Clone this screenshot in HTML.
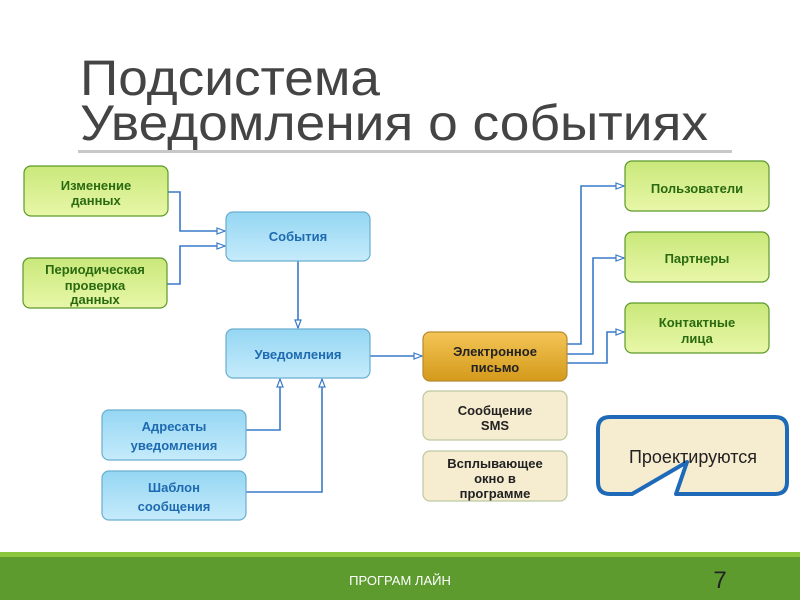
<!DOCTYPE html>
<html><head><meta charset="utf-8"><style>
html,body{margin:0;padding:0;background:#fff;}
svg{display:block;font-family:"Liberation Sans",sans-serif;}
.b{font-weight:bold;font-size:13px;text-anchor:middle;}
</style></head><body>
<svg width="800" height="600" viewBox="0 0 800 600">
<defs>
<linearGradient id="g" x1="0" y1="0" x2="0" y2="1"><stop offset="0" stop-color="#c9e87a"/><stop offset="1" stop-color="#e8f7a8"/></linearGradient>
<linearGradient id="bl" x1="0" y1="0" x2="0" y2="1"><stop offset="0" stop-color="#95d6f3"/><stop offset="1" stop-color="#c5ebfb"/></linearGradient>
<linearGradient id="or" x1="0" y1="0" x2="0" y2="1"><stop offset="0" stop-color="#f4c557"/><stop offset="1" stop-color="#d49a1a"/></linearGradient>
<marker id="a" markerWidth="10" markerHeight="8" refX="9" refY="4" orient="auto" markerUnits="userSpaceOnUse"><path d="M1,1 L9,4 L1,7 Z" fill="#fff" stroke="#3a7ac8" stroke-width="1.2"/></marker>
</defs>
<text x="80" y="95" font-size="50" fill="#444" font-family="'Liberation Sans Narrow','Liberation Sans',sans-serif" textLength="300" lengthAdjust="spacingAndGlyphs">Подсистема</text>
<text x="80" y="140" font-size="50" fill="#444" font-family="'Liberation Sans Narrow','Liberation Sans',sans-serif" textLength="628" lengthAdjust="spacingAndGlyphs">Уведомления о событиях</text>
<rect x="78" y="150" width="654" height="3" fill="#c8c8c8"/>

<g fill="none" stroke="#3a7ac8" stroke-width="1.6">
<path d="M168,192 H180 V231 H225" marker-end="url(#a)"/>
<path d="M167,284 H180 V246 H225" marker-end="url(#a)"/>
<path d="M298,261 V328" marker-end="url(#a)"/>
<path d="M246,430 H280 V379" marker-end="url(#a)"/>
<path d="M246,492 H322 V379" marker-end="url(#a)"/>
<path d="M370,356 H422" marker-end="url(#a)"/>
<path d="M567,344 H581 V186 H624" marker-end="url(#a)"/>
<path d="M567,354 H593 V258 H624" marker-end="url(#a)"/>
<path d="M567,363 H607 V332 H624" marker-end="url(#a)"/>
</g>

<g stroke="#5c9a2a" stroke-width="1.2" fill="url(#g)">
<rect x="24" y="166" width="144" height="50" rx="7"/>
<rect x="23" y="258" width="144" height="50" rx="7"/>
<rect x="625" y="161" width="144" height="50" rx="7"/>
<rect x="625" y="232" width="144" height="50" rx="7"/>
<rect x="625" y="303" width="144" height="50" rx="7"/>
</g>
<g stroke="#6aaed0" stroke-width="1.2" fill="url(#bl)">
<rect x="226" y="212" width="144" height="49" rx="7"/>
<rect x="226" y="329" width="144" height="49" rx="7"/>
<rect x="102" y="410" width="144" height="50" rx="7"/>
<rect x="102" y="471" width="144" height="49" rx="7"/>
</g>
<rect x="423" y="332" width="144" height="49" rx="7" fill="url(#or)" stroke="#b88a30" stroke-width="1.2"/>
<rect x="423" y="391" width="144" height="49" rx="7" fill="#f6ecd0" stroke="#bcc9a0" stroke-width="1.2"/>
<rect x="423" y="451" width="144" height="50" rx="7" fill="#f6ecd0" stroke="#bcc9a0" stroke-width="1.2"/>

<g class="b" fill="#2a6a10">
<text class="b" x="96" y="190">Изменение</text><text class="b" x="96" y="205">данных</text>
<text class="b" x="95" y="274">Периодическая</text><text class="b" x="95" y="290">проверка</text><text class="b" x="95" y="304">данных</text>
<text class="b" x="697" y="193">Пользователи</text>
<text class="b" x="697" y="263">Партнеры</text>
<text class="b" x="697" y="327">Контактные</text><text class="b" x="697" y="343">лица</text>
</g>
<g fill="#1e6ab0">
<text class="b" x="298" y="241">События</text>
<text class="b" x="298" y="359">Уведомления</text>
<text class="b" x="174" y="431">Адресаты</text><text class="b" x="174" y="450">уведомления</text>
<text class="b" x="174" y="492">Шаблон</text><text class="b" x="174" y="511">сообщения</text>
</g>
<g fill="#222">
<text class="b" x="495" y="356">Электронное</text><text class="b" x="495" y="372">письмо</text>
<text class="b" x="495" y="415">Сообщение</text><text class="b" x="495" y="430">SMS</text>
<text class="b" x="495" y="468">Всплывающее</text><text class="b" x="495" y="483">окно в</text><text class="b" x="495" y="498">программе</text>
</g>

<path d="M610,417 H775 Q787,417 787,429 V482 Q787,494 775,494 H676 L687,462 L632,494 H610 Q598,494 598,482 V429 Q598,417 610,417 Z" fill="#f6ecd0" stroke="#1e6ab8" stroke-width="4" stroke-linejoin="round"/>
<text x="693" y="463" font-size="18" text-anchor="middle" fill="#222">Проектируются</text>

<rect x="0" y="552" width="800" height="5" fill="#8cc63f"/>
<rect x="0" y="557" width="800" height="43" fill="#5d9b2f"/>
<text x="400" y="585" font-size="13" fill="#fff" text-anchor="middle">ПРОГРАМ ЛАЙН</text>
<text x="720" y="588" font-size="24" fill="#222" text-anchor="middle">7</text>
</svg>
</body></html>
